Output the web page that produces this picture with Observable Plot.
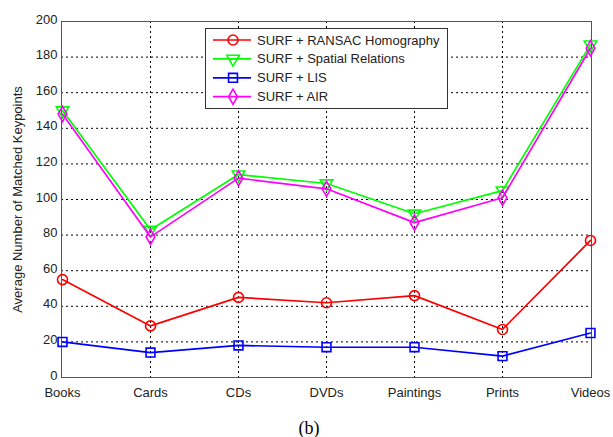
<!DOCTYPE html>
<html><head><meta charset="utf-8">
<script src="https://cdn.jsdelivr.net/npm/d3@7"></script>
<script src="https://cdn.jsdelivr.net/npm/@observablehq/plot@0.6"></script>
<style>
body{margin:0;background:#fff;}
#wrap{position:relative;width:613px;height:437px;font-family:"Liberation Sans",Arial,sans-serif;}
#legend{position:absolute;left:205px;top:28px;}
#cap{position:absolute;left:0;width:618px;top:418px;text-align:center;font-family:"Liberation Serif","Times New Roman",serif;font-size:18px;}
</style></head>
<body><div id="wrap"><div id="chart"></div><div id="legend"></div><div id="cap">(b)</div></div>
<script>
const categories = ["Books","Cards","CDs","DVDs","Paintings","Prints","Videos"];
const ransac  = [55, 29, 45, 42, 46, 27, 77];
const spatial = [150, 83, 114, 109, 92, 105, 187];
const lis     = [20, 14, 18, 17, 17, 12, 25];
const air     = [148, 79, 112, 106, 87, 101, 185];
const seriesNames = ["SURF + RANSAC Homography","SURF + Spatial Relations","SURF + LIS","SURF + AIR"];
const yTicks = [0,20,40,60,80,100,120,140,160,180,200];
const yLabel = "Average Number of Matched Keypoints";

const triangleDown = {
  draw(context, size) {
    const y = -Math.sqrt(size / (Math.sqrt(3) * 3));
    context.moveTo(0, -y * 2);
    context.lineTo(-Math.sqrt(3) * y, y);
    context.lineTo(Math.sqrt(3) * y, y);
    context.closePath();
  }
};
const styles = [
  {color:"#ff0000", symbol:"circle", r:5},
  {color:"#00ff00", symbol:triangleDown, r:4.6},
  {color:"#0000ff", symbol:"square", r:5},
  {color:"#ff00ff", symbol:"diamond", r:4.6}
];
const values = [ransac, spatial, lis, air];

const marks = [
  Plot.ruleX(categories.slice(1, -1), {stroke:"#000", strokeDasharray:"2,3", strokeWidth:1}),
  Plot.ruleY(yTicks.slice(1, -1), {stroke:"#000", strokeDasharray:"2,3", strokeWidth:1}),
  Plot.frame({stroke:"#555", strokeWidth:1}),
  Plot.axisX({tickSize:0, tickPadding:10, fontSize:13, label:null}),
  Plot.axisY({ticks:yTicks, tickSize:0, tickPadding:4, fontSize:13, dy:-2, label:null}),
  Plot.axisY({ticks:[], tickSize:0, label:yLabel, fontSize:13, labelAnchor:"center", labelArrow:"none", labelOffset:49})
];
values.forEach((vals, i) => {
  const data = categories.map((c, j) => ({cat:c, v:vals[j]}));
  marks.push(Plot.line(data, {x:"cat", y:"v", stroke:styles[i].color, strokeWidth:1.7}));
  marks.push(Plot.dot(data, {x:"cat", y:"v", stroke:styles[i].color, symbol:styles[i].symbol, r:styles[i].r, strokeWidth:1.6, fill:"none"}));
});

const chart = Plot.plot({
  width:613, height:400,
  marginLeft:61, marginRight:22, marginTop:21, marginBottom:23,
  style:{fontFamily:"'Liberation Sans', Arial, sans-serif", fontSize:"13px", color:"#222", background:"#fff"},
  x:{type:"point", domain:categories, padding:0},
  y:{domain:[0,200]},
  marks
});
document.getElementById("chart").append(chart);

// legend
const lw = 243, lh = 81;
const svg = d3.select("#legend").append("svg").attr("width", lw).attr("height", lh)
  .style("font-family","'Liberation Sans', Arial, sans-serif").style("font-size","13px");
svg.append("rect").attr("x",0.5).attr("y",0.5).attr("width",lw-1).attr("height",lh-1)
  .attr("fill","#fff").attr("stroke","#333");
const symMap = {circle:d3.symbolCircle, square:d3.symbolSquare, diamond:d3.symbolDiamond};
seriesNames.forEach((name, i) => {
  const y = 12 + i * 18.9;
  const g = svg.append("g");
  g.append("line").attr("x1",8).attr("x2",46).attr("y1",y).attr("y2",y).attr("stroke",styles[i].color).attr("stroke-width",1.7);
  const sym = typeof styles[i].symbol === "string" ? symMap[styles[i].symbol] : styles[i].symbol;
  g.append("path").attr("d", d3.symbol(sym, Math.PI*styles[i].r*styles[i].r)())
    .attr("transform",`translate(28,${y})`).attr("fill","none").attr("stroke",styles[i].color).attr("stroke-width",1.6);
  g.append("text").attr("x",52).attr("y",y).attr("dy","0.35em").attr("fill","#222").text(name);
});
</script></body></html>
